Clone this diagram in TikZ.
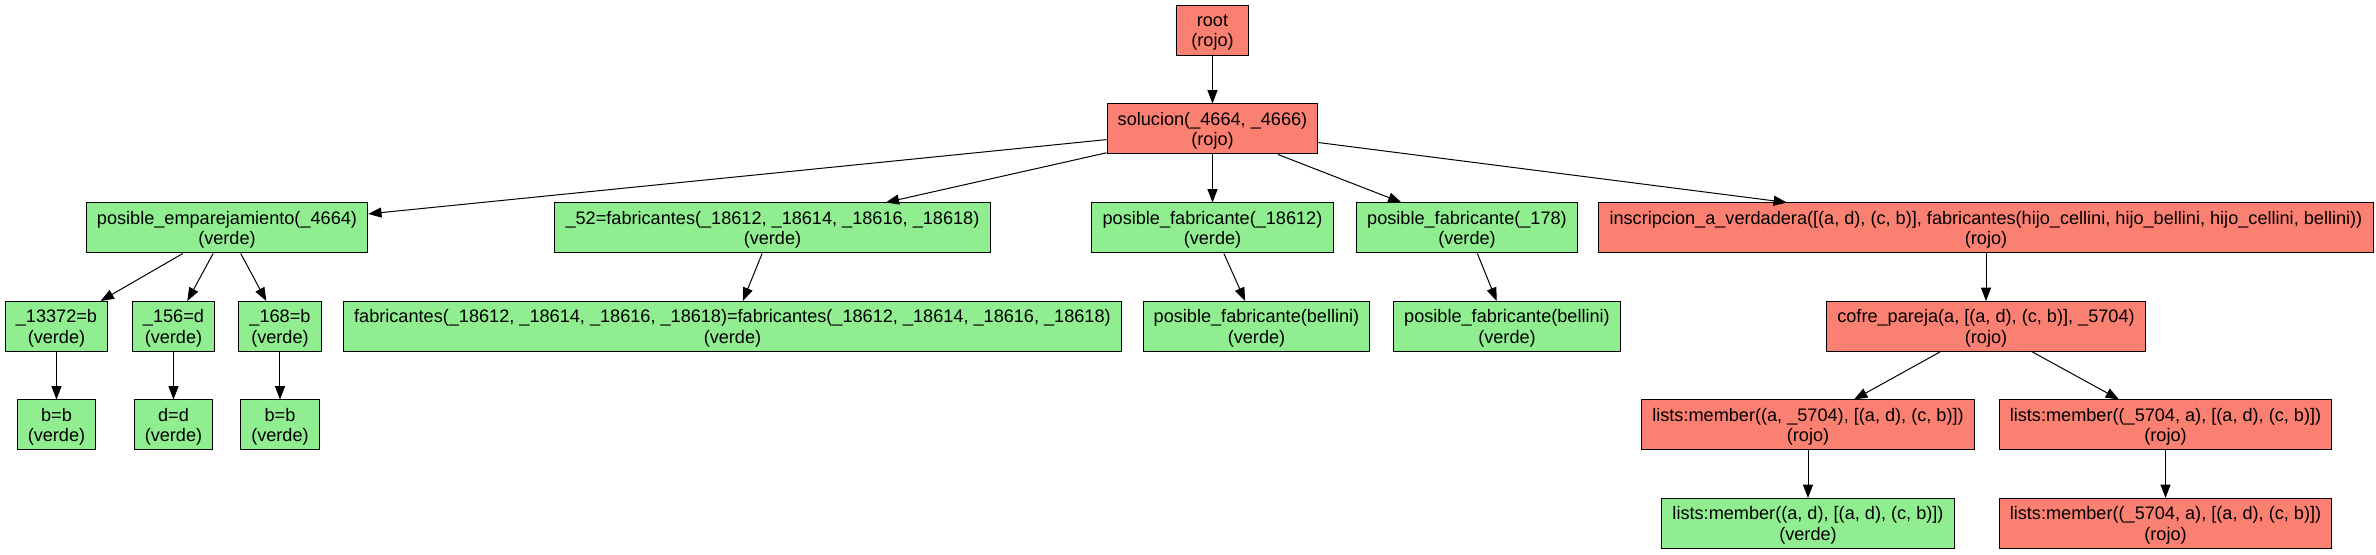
\documentclass[tikz,border=0pt]{standalone}
\usepackage{fontspec}
\setmainfont{Liberation Sans}
\usepackage{tikz}
\usetikzlibrary{positioning}
\usetikzlibrary{arrows.meta}
\definecolor{salmon}{HTML}{FA8072}
\definecolor{lightgreen}{HTML}{90EE90}

\begin{document}
\begin{tikzpicture}[-{Triangle[length=10pt,width=7.5pt]}, auto, node distance = 73.875pt and 0pt, on grid,
                    line width = 0.75pt,
                    goal/.style  = {rectangle,
                                    draw,
                                    black,
                                    text = black,
                                    align = center,
                                    font = \fontsize{13.6}{15.5}\selectfont,
                                    text depth = 0pt,
                                    inner xsep = 8pt,
                                    inner ysep = 2pt,
                                    minimum width = 54pt,
                                    minimum height = 37.5pt},
                    rojo/.style  = {goal, fill = salmon},
                    verde/.style = {goal, fill = lightgreen}]

\useasboundingbox (-909.375pt,22.875pt) rectangle (872.625pt,-393.375pt);

\node[rojo] (root) at (0,0) {root\\(rojo)};
\node[rojo] (sol) [below = of root] {solucion(\_4664, \_4666)\\(rojo)};

\node[verde] (emp) [below left = 74.25pt and 739.125pt of sol] {posible\_emparejamiento(\_4664)\\(verde)};
\node[verde] (fab52) [below left = 74.25pt and 330pt of sol] {\_52=fabricantes(\_18612, \_18614, \_18616, \_18618)\\(verde)};
\node[verde] (posfab1) [below = 74.25pt of sol] {posible\_fabricante(\_18612)\\(verde)};
\node[verde] (posfab2) [below right = 74.25pt and 190.875pt of sol] {posible\_fabricante(\_178)\\(verde)};
\node[rojo] (insc) [below right = 74.25pt and 580.125pt of sol] {inscripcion\_a\_verdadera([(a, d), (c, b)], fabricantes(hijo\_cellini, hijo\_bellini, hijo\_cellini, bellini))\\(rojo)};

\node[verde] (eq1) [below left = of emp, xshift = -127.875pt] {\_13372=b\\(verde)};
\node[verde] (eq2) [below left = of emp, xshift = -40.125pt] {\_156=d\\(verde)};
\node[verde] (eq3) [below right = of emp, xshift = 39.75pt] {\_168=b\\(verde)};
\node[verde] (fabeq) [below left = of fab52, xshift = -30pt] {fabricantes(\_18612, \_18614, \_18616, \_18618)=fabricantes(\_18612, \_18614, \_18616, \_18618)\\(verde)};
\node[verde] (bell1) [below right = of posfab1, xshift = 33pt] {posible\_fabricante(bellini)\\(verde)};
\node[verde] (bell2) [below right = of posfab2, xshift = 30pt] {posible\_fabricante(bellini)\\(verde)};
\node[rojo] (cofre) [below = of insc] {cofre\_pareja(a, [(a, d), (c, b)], \_5704)\\(rojo)};

\node[verde] (bb1) [below = of eq1] {b=b\\(verde)};
\node[verde] (dd) [below = of eq2] {d=d\\(verde)};
\node[verde] (bb2) [below = of eq3] {b=b\\(verde)};
\node[rojo] (mem1) [below left = of cofre, xshift = -133.5pt] {lists:member((a, \_5704), [(a, d), (c, b)])\\(rojo)};
\node[rojo] (mem2) [below right = of cofre, xshift = 134.625pt] {lists:member((\_5704, a), [(a, d), (c, b)])\\(rojo)};

\node[verde] (mem3) [below = of mem1] {lists:member((a, d), [(a, d), (c, b)])\\(verde)};
\node[rojo] (mem4) [below = of mem2] {lists:member((\_5704, a), [(a, d), (c, b)])\\(rojo)};

\path (root) edge (sol);
\path (sol) edge (emp);
\path (sol) edge (fab52);
\path (sol) edge (posfab1);
\path (sol) edge (posfab2);
\path (sol) edge (insc);
\path (emp) edge (eq1);
\path (emp) edge (eq2);
\path (emp) edge (eq3);
\path (fab52) edge (fabeq);
\path (posfab1) edge (bell1);
\path (posfab2) edge (bell2);
\path (insc) edge (cofre);
\path (eq1) edge (bb1);
\path (eq2) edge (dd);
\path (eq3) edge (bb2);
\path (cofre) edge (mem1);
\path (cofre) edge (mem2);
\path (mem1) edge (mem3);
\path (mem2) edge (mem4);

\end{tikzpicture}
\end{document}
